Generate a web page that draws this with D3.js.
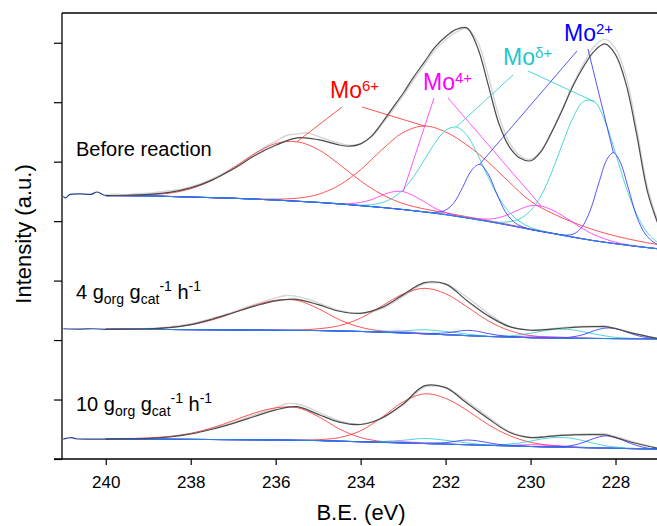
<!DOCTYPE html>
<html>
<head>
<meta charset="utf-8">
<script src="https://cdn.jsdelivr.net/npm/d3@7"></script>
<style>
  html, body { margin: 0; padding: 0; background: #fff; }
  svg { display: block; font-family: "Liberation Sans", Arial, sans-serif; }
</style>
</head>
<body>
<svg id="chart" width="657" height="526"></svg>
<script>
// ---- data (binding energy in eV, intensity in offset plot units) ----
const bgBE = d3.range(240, 226.99, -0.5); // grid of the Shirley backgrounds
const xTicks = [240, 238, 236, 234, 232, 230, 228];
const xMinorTicks = [241, 239, 237, 235, 233, 231, 229, 227];
const yTicks = [0, 2, 4, 6, 8, 10, 12, 14];
const yMinorTicks = [1, 3, 5, 7, 9, 11, 13, 15];
const states = ["6+", "4+", "\u03b4+", "2+"];

// Before reaction
const beforeBg = [8.86, 8.855, 8.85, 8.83, 8.81, 8.79, 8.77, 8.74, 8.71, 8.67, 8.63, 8.58, 8.52, 8.46, 8.39, 8.31, 8.22, 8.11, 7.99, 7.86, 7.72, 7.59, 7.46, 7.34, 7.24, 7.15, 7.07];
const beforeLead = [[241, 8.83], [240.95, 8.78], [240.85, 8.89], [240.6, 8.92], [240.35, 8.9], [240.2, 8.98], [240.05, 8.88], [239.9, 8.86]];
const beforeRaw = [[240, 8.88], [239.75, 8.91], [239.5, 8.89], [239.25, 8.93], [239, 8.94], [238.75, 8.98], [238.5, 9.02], [238.25, 9.07], [238, 9.16], [237.75, 9.27], [237.5, 9.42], [237.25, 9.6], [237, 9.8], [236.75, 10.02], [236.5, 10.27], [236.25, 10.5], [236, 10.68], [235.75, 10.88], [235.5, 10.93], [235.25, 10.97], [235, 10.85], [234.75, 10.72], [234.5, 10.62], [234.25, 10.55], [234, 10.6], [233.75, 10.82], [233.5, 11.25], [233.25, 11.72], [233, 12.22], [232.75, 12.75], [232.5, 13.25], [232.25, 13.75], [232, 14.1], [231.75, 14.36], [231.5, 14.48], [231.25, 14.05], [231, 12.9], [230.75, 11.55], [230.5, 10.65], [230.25, 10.2], [230, 10.08], [229.75, 10.38], [229.5, 11.02], [229.25, 11.78], [229, 12.6], [228.75, 13.3], [228.5, 13.88], [228.25, 14.12], [228, 13.8], [227.75, 12.85], [227.5, 11.1], [227.25, 9.15], [227, 7.98]];
const beforeEnv = [[240, 8.86], [239.5, 8.87], [239, 8.9], [238.5, 8.97], [238, 9.12], [237.5, 9.38], [237, 9.75], [236.5, 10.2], [236, 10.55], [235.5, 10.8], [235, 10.74], [234.5, 10.56], [234.25, 10.52], [234, 10.6], [233.75, 10.85], [233.5, 11.3], [233.25, 11.8], [233, 12.3], [232.75, 12.85], [232.5, 13.35], [232.25, 13.85], [232, 14.2], [231.75, 14.45], [231.5, 14.5], [231.25, 13.85], [231, 12.6], [230.75, 11.3], [230.5, 10.5], [230.25, 10.12], [230, 10.03], [229.75, 10.35], [229.5, 11], [229.25, 11.75], [229, 12.55], [228.75, 13.2], [228.5, 13.72], [228.25, 13.96], [228, 13.6], [227.75, 12.6], [227.5, 10.9], [227.25, 9], [227, 7.9]];
// fitted components, height above the background
const beforeMo6a = [[240, 0], [239.5, 0.01], [239, 0.04], [238.5, 0.11], [238, 0.28], [237.5, 0.58], [237, 1.02], [236.5, 1.52], [236, 1.9], [235.5, 2], [235, 1.78], [234.5, 1.33], [234, 0.83], [233.5, 0.44], [233, 0.2], [232.5, 0.1], [232, 0.06], [231.5, 0.04], [231, 0.03], [230.5, 0.02], [230, 0.02], [229.5, 0.01], [229, 0.01], [228.5, 0]];
const beforeMo6b = [[237, 0], [236.5, 0.01], [236, 0.03], [235.5, 0.1], [235, 0.27], [234.5, 0.63], [234, 1.21], [233.5, 1.94], [233, 2.59], [232.5, 2.89], [232, 2.78], [231.5, 2.45], [231, 2], [230.5, 1.45], [230, 0.95], [229.5, 0.68], [229, 0.5], [228.5, 0.36], [228, 0.26], [227.5, 0.19], [227, 0.14]];
const beforeMo4a = [[235, 0], [234.5, 0.01], [234.25, 0.04], [234, 0.11], [233.75, 0.23], [233.5, 0.41], [233.25, 0.56], [233, 0.6], [232.75, 0.5], [232.5, 0.34], [232.25, 0.17], [232, 0.07], [231.75, 0.02], [231.5, 0.01], [231, 0]];
const beforeMo4b = [[231.5, 0], [231, 0.08], [230.75, 0.19], [230.5, 0.38], [230.25, 0.61], [230, 0.8], [229.75, 0.85], [229.5, 0.79], [229.25, 0.66], [229, 0.49], [228.75, 0.33], [228.5, 0.2], [228, 0.05], [227.5, 0.01], [227, 0]];
const beforeMoDa = [[234.5, 0], [234.25, 0.01], [234, 0.02], [233.75, 0.06], [233.5, 0.16], [233.25, 0.35], [233, 0.67], [232.75, 1.15], [232.5, 1.75], [232.25, 2.36], [232, 2.83], [231.75, 3], [231.5, 2.78], [231.25, 2.21], [231, 1.5], [230.75, 0.87], [230.5, 0.44], [230.25, 0.19], [230, 0.07], [229.75, 0.02], [229.5, 0.01], [229, 0]];
const beforeMoDb = [[231.5, 0], [231, 0.01], [230.75, 0.04], [230.5, 0.12], [230.25, 0.29], [230, 0.63], [229.75, 1.21], [229.5, 2.06], [229.25, 3.07], [229, 4.02], [228.75, 4.63], [228.5, 4.68], [228.25, 4.08], [228, 3.04], [227.75, 1.94], [227.5, 1.07], [227.25, 0.5], [227, 0.2]];
const beforeMo2a = [[232.5, 0], [232.2, 0.04], [232, 0.15], [231.8, 0.45], [231.6, 1], [231.4, 1.6], [231.2, 1.87], [231, 1.6], [230.8, 1], [230.6, 0.45], [230.4, 0.15], [230.2, 0.04], [230, 0]];
const beforeMo2b = [[229.5, 0], [229.2, 0.02], [229, 0.1], [228.8, 0.37], [228.6, 0.98], [228.4, 1.93], [228.2, 2.8], [228.05, 3.05], [227.9, 2.8], [227.7, 1.93], [227.5, 1], [227.3, 0.45], [227.1, 0.2], [227, 0.15]];

// 4 g_org g_cat^-1 h^-1
const rate4Bg = [4.36, 4.36, 4.36, 4.355, 4.35, 4.345, 4.34, 4.335, 4.33, 4.325, 4.32, 4.305, 4.29, 4.265, 4.24, 4.21, 4.18, 4.15, 4.12, 4.1, 4.08, 4.07, 4.06, 4.055, 4.05, 4.045, 4.04];
const rate4Lead = [[241, 4.38], [240.6, 4.37], [240.3, 4.38], [240, 4.36]];
const rate4Raw = [[240, 4.37], [239.5, 4.38], [239, 4.39], [238.5, 4.44], [238, 4.55], [237.5, 4.73], [237, 4.95], [236.5, 5.2], [236, 5.42], [235.75, 5.5], [235.5, 5.47], [235.25, 5.38], [235, 5.25], [234.5, 5], [234, 4.9], [233.5, 5.06], [233, 5.47], [232.5, 5.9], [232.25, 5.92], [232, 5.9], [231.5, 5.45], [231, 4.9], [230.5, 4.47], [230, 4.34], [229.5, 4.38], [229, 4.45], [228.5, 4.47], [228.25, 4.48], [228, 4.4], [227.5, 4.21], [227, 4.06]];
const rate4Env = [[240, 4.36], [239.5, 4.37], [239, 4.38], [238.5, 4.42], [238, 4.52], [237.5, 4.7], [237, 4.92], [236.5, 5.14], [236, 5.32], [235.5, 5.37], [235, 5.19], [234.5, 4.97], [234, 4.9], [233.5, 5.1], [233, 5.52], [232.5, 5.93], [232, 5.88], [231.5, 5.33], [231, 4.82], [230.5, 4.45], [230, 4.33], [229.5, 4.37], [229, 4.43], [228.5, 4.45], [228.25, 4.45], [228, 4.38], [227.5, 4.2], [227, 4.05]];
const rate4Mo6a = [[240, 0], [239.5, 0.01], [239, 0.02], [238.5, 0.07], [238, 0.16], [237.5, 0.33], [237, 0.57], [236.5, 0.83], [236, 1.01], [235.5, 1.01], [235, 0.74], [234.5, 0.38], [234, 0.14], [233.5, 0.04], [233, 0.01], [232.5, 0]];
const rate4Mo6b = [[236, 0], [235.5, 0.01], [235, 0.06], [234.5, 0.18], [234, 0.45], [233.5, 0.88], [233, 1.31], [232.5, 1.53], [232, 1.38], [231.5, 0.97], [231, 0.53], [230.5, 0.22], [230, 0.07], [229.5, 0.02], [229, 0]];
const rate4Mo4a = [[234, 0], [233.5, 0.02], [233, 0.04], [232.5, 0.02], [232, 0]];
const rate4Mo4b = [[231, 0], [230.5, 0.02], [230, 0.05], [229.5, 0.04], [229, 0.02], [228.5, 0]];
const rate4MoDa = [[234, 0], [233.5, 0.03], [233, 0.07], [232.5, 0.14], [232, 0.11], [231.5, 0.05], [231, 0.01], [230.5, 0]];
const rate4MoDb = [[231, 0], [230.75, 0.02], [230.5, 0.04], [230.25, 0.09], [230, 0.15], [229.75, 0.22], [229.5, 0.28], [229.25, 0.3], [229, 0.28], [228.75, 0.22], [228.5, 0.15], [228.25, 0.09], [228, 0.04], [227.75, 0.02], [227.5, 0.01], [227, 0]];
const rate4Mo2a = [[232.75, 0], [232.5, 0.01], [232.25, 0.03], [232, 0.06], [231.75, 0.12], [231.5, 0.18], [231.25, 0.16], [231, 0.1], [230.75, 0.05], [230.5, 0.02], [230.25, 0.01], [230, 0]];
const rate4Mo2b = [[229.5, 0], [229.25, 0.01], [229, 0.05], [228.75, 0.13], [228.5, 0.26], [228.25, 0.35], [228, 0.34], [227.75, 0.23], [227.5, 0.11], [227.25, 0.04], [227, 0.01]];

// 10 g_org g_cat^-1 h^-1
const rate10Bg = [0.67, 0.67, 0.67, 0.665, 0.66, 0.655, 0.65, 0.645, 0.64, 0.63, 0.62, 0.6, 0.58, 0.56, 0.54, 0.52, 0.5, 0.48, 0.46, 0.44, 0.42, 0.405, 0.39, 0.375, 0.36, 0.345, 0.33];
const rate10Lead = [[241, 0.67], [240.8, 0.72], [240.7, 0.68], [240.3, 0.67], [240, 0.67]];
const rate10Raw = [[240, 0.68], [239.5, 0.69], [239, 0.7], [238.5, 0.76], [238, 0.86], [237.5, 1.02], [237, 1.23], [236.5, 1.48], [236, 1.72], [235.75, 1.86], [235.5, 1.85], [235.25, 1.74], [235, 1.58], [234.5, 1.28], [234, 1.17], [233.5, 1.36], [233, 1.82], [232.5, 2.42], [232.25, 2.45], [232, 2.42], [231.5, 1.95], [231, 1.42], [230.5, 0.93], [230, 0.73], [229.5, 0.78], [229, 0.83], [228.5, 0.85], [228.25, 0.85], [228, 0.76], [227.5, 0.54], [227, 0.37]];
const rate10Env = [[240, 0.67], [239.5, 0.68], [239, 0.69], [238.5, 0.74], [238, 0.84], [237.5, 1], [237, 1.2], [236.5, 1.43], [236, 1.65], [235.5, 1.76], [235, 1.5], [234.5, 1.24], [234, 1.16], [233.5, 1.38], [233, 1.85], [232.5, 2.46], [232, 2.4], [231.5, 1.88], [231, 1.36], [230.5, 0.9], [230, 0.72], [229.5, 0.77], [229, 0.81], [228.5, 0.82], [228.25, 0.81], [228, 0.72], [227.5, 0.52], [227, 0.36]];
const rate10Mo6a = [[240, 0], [239.5, 0.01], [239, 0.04], [238.5, 0.09], [238, 0.2], [237.5, 0.39], [237, 0.64], [236.5, 0.9], [236, 1.08], [235.5, 1.1], [235, 0.81], [234.5, 0.41], [234, 0.14], [233.5, 0.03], [233, 0]];
const rate10Mo6b = [[235.5, 0], [235, 0.03], [234.5, 0.12], [234, 0.37], [233.5, 0.84], [233, 1.38], [232.5, 1.67], [232, 1.54], [231.5, 1.16], [231, 0.7], [230.5, 0.35], [230, 0.14], [229.5, 0.05], [229, 0.01], [228.5, 0]];
const rate10Mo4a = [[234, 0], [233.5, 0.02], [233, 0.04], [232.5, 0.02], [232, 0]];
const rate10Mo4b = [[231, 0], [230.5, 0.02], [230, 0.06], [229.5, 0.05], [229, 0.02], [228.5, 0]];
const rate10MoDa = [[234, 0], [233.5, 0.03], [233, 0.09], [232.5, 0.17], [232, 0.13], [231.5, 0.06], [231, 0.01], [230.5, 0]];
const rate10MoDb = [[231, 0], [230.75, 0.02], [230.5, 0.06], [230.25, 0.11], [230, 0.18], [229.75, 0.26], [229.5, 0.31], [229.25, 0.33], [229, 0.3], [228.75, 0.23], [228.5, 0.15], [228.25, 0.08], [228, 0.04], [227.75, 0.02], [227.5, 0.01], [227, 0]];
const rate10Mo2a = [[232.75, 0], [232.5, 0.01], [232.25, 0.03], [232, 0.05], [231.75, 0.11], [231.5, 0.16], [231.25, 0.14], [231, 0.09], [230.75, 0.04], [230.5, 0.02], [230.25, 0.01], [230, 0]];
const rate10Mo2b = [[229.5, 0], [229.25, 0.02], [229, 0.07], [228.75, 0.18], [228.5, 0.32], [228.25, 0.41], [228, 0.37], [227.75, 0.23], [227.5, 0.11], [227.25, 0.03], [227, 0.01]];

const spectra = [
  { bg: beforeBg, lead: beforeLead, raw: beforeRaw, env: beforeEnv,
    comps: [[beforeMo6a, beforeMo6b], [beforeMo4a, beforeMo4b], [beforeMoDa, beforeMoDb], [beforeMo2a, beforeMo2b]] },
  { bg: rate4Bg, lead: rate4Lead, raw: rate4Raw, env: rate4Env,
    comps: [[rate4Mo6a, rate4Mo6b], [rate4Mo4a, rate4Mo4b], [rate4MoDa, rate4MoDb], [rate4Mo2a, rate4Mo2b]] },
  { bg: rate10Bg, lead: rate10Lead, raw: rate10Raw, env: rate10Env,
    comps: [[rate10Mo6a, rate10Mo6b], [rate10Mo4a, rate10Mo4b], [rate10MoDa, rate10MoDb], [rate10Mo2a, rate10Mo2b]] },
];

// ---- layout ----
const compColors = ["#ff2a2a", "#ff2aff", "#22cccc", "#2a2aff"];
const labelColors = ["#ff0000", "#ff00ff", "#1fc8c8", "#0000ff"];
// label anchor (px) and where the two leader lines leave it (offsets, px)
const labelPos = [[330, 98], [423, 90], [503, 65], [564, 41]];
const leaderStart = [[[12, 9], [32, 9]], [[11, 8], [25, 8]], [[10, 10], [25, 6]], [[13, 10], [24, 8]]];

const svg = d3.select("#chart");
const x = d3.scaleLinear().domain([241.03, 227]).range([62, 658]);
const y = d3.scaleLinear().domain([0, 15]).range([459, 13]);

const line = d3
  .line()
  .x((d) => x(d[0]))
  .y((d) => y(d[1]))
  .curve(d3.curveCatmullRom.alpha(0.5));

// component drawn on top of its background, flat parts follow the background
function componentPoints(bg, comp) {
  const base = d3.scaleLinear().domain(bgBE).range(bg);
  const hi = comp[0][0];
  const lo = comp[comp.length - 1][0];
  const bgPts = bgBE.map((b, i) => [b, bg[i]]);
  return bgPts
    .filter((p) => p[0] > hi)
    .concat(comp.map((p) => [p[0], base(p[0]) + p[1]]))
    .concat(bgPts.filter((p) => p[0] < lo));
}

const plot = svg.append("g");

spectra.forEach((s, si) => {
  const g = plot.append("g");
  g.append("path")
    .attr("d", line(s.raw))
    .attr("fill", "none")
    .attr("stroke", "#d6d6d6")
    .attr("stroke-width", 1.4);
  s.comps.forEach((pair, ci) => {
    pair.forEach((comp) => {
      g.append("path")
        .attr("d", line(componentPoints(s.bg, comp)))
        .attr("fill", "none")
        .attr("stroke", compColors[ci])
        .attr("stroke-opacity", 0.8)
        .attr("stroke-width", 1);
    });
  });
  // background on top so the flat baseline reads light blue
  g.append("path")
    .attr("d", line(bgBE.map((b, i) => [b, s.bg[i]])))
    .attr("fill", "none")
    .attr("stroke", "#2b8de0")
    .attr("stroke-opacity", 0.85)
    .attr("stroke-width", 1.1);
  g.append("path")
    .attr("d", line(s.env))
    .attr("fill", "none")
    .attr("stroke", "#4a4a4a")
    .attr("stroke-width", 1.2);
  g.append("path")
    .attr("d", line(s.lead))
    .attr("fill", "none")
    .attr("stroke", "#23408c")
    .attr("stroke-width", 1.2);
});

// leader lines from the labels to the peak tops of the first spectrum
const first = spectra[0];
const firstBase = d3.scaleLinear().domain(bgBE).range(first.bg);
first.comps.forEach((pair, ci) => {
  pair.forEach((comp, k) => {
    const peak = comp.reduce((a, b) => (b[1] > a[1] ? b : a));
    const st = leaderStart[ci][k];
    plot
      .append("line")
      .attr("x1", labelPos[ci][0] + st[0])
      .attr("y1", labelPos[ci][1] + st[1])
      .attr("x2", x(peak[0]))
      .attr("y2", y(firstBase(peak[0]) + peak[1]))
      .attr("stroke", compColors[ci])
      .attr("stroke-opacity", 0.8)
      .attr("stroke-width", 1);
  });
  const t = plot
    .append("text")
    .attr("x", labelPos[ci][0])
    .attr("y", labelPos[ci][1])
    .attr("fill", labelColors[ci])
    .style("font-size", "23px");
  t.append("tspan").text("Mo");
  t.append("tspan").attr("dy", -7).style("font-size", "15px").text(states[ci]);
});

// sample labels
plot
  .append("text")
  .attr("x", 76)
  .attr("y", 156)
  .style("font-size", "20px")
  .text("Before reaction");

function rateLabel(value, ty) {
  const t = plot.append("text").attr("x", 76).attr("y", ty).style("font-size", "20px");
  t.append("tspan").text(value + " g");
  t.append("tspan").attr("dy", 5).style("font-size", "14px").text("org");
  t.append("tspan").attr("dy", -5).text(" g");
  t.append("tspan").attr("dy", 5).style("font-size", "14px").text("cat");
  t.append("tspan").attr("dy", -13).style("font-size", "14px").text("-1");
  t.append("tspan").attr("dy", 8).text(" h");
  t.append("tspan").attr("dy", -8).style("font-size", "14px").text("-1");
}
rateLabel("4", 299);
rateLabel("10", 411);

// ---- axes ----
const axisX = svg.append("g").attr("transform", "translate(0,459)");
axisX.call(d3.axisBottom(x).tickValues(xMinorTicks).tickSize(4).tickFormat("").tickSizeOuter(0));
axisX.call(d3.axisBottom(x).tickValues(xTicks).tickSize(6).tickFormat(d3.format("d")).tickSizeOuter(0));
axisX.selectAll(".domain").remove();
axisX.selectAll("text").attr("y", 17).attr("dy", "0.71em").style("font-size", "17px").attr("fill", "#000");

const axisY = svg.append("g").attr("transform", "translate(62,0)");
axisY.call(d3.axisLeft(y).tickValues(yMinorTicks).tickSize(4).tickFormat("").tickSizeOuter(0));
axisY.call(d3.axisLeft(y).tickValues(yTicks).tickSize(8).tickFormat("").tickSizeOuter(0));
axisY.selectAll(".domain").remove();

svg.selectAll(".tick line").attr("stroke", "#000").attr("stroke-width", 1.2);

// frame
svg.append("line").attr("x1", 54).attr("x2", 657).attr("y1", 459).attr("y2", 459).attr("stroke", "#000").attr("stroke-width", 1.3);
svg.append("line").attr("x1", 62).attr("x2", 62).attr("y1", 13).attr("y2", 459).attr("stroke", "#000").attr("stroke-width", 1.3);
svg.append("line").attr("x1", 62).attr("x2", 657).attr("y1", 13).attr("y2", 13).attr("stroke", "#000").attr("stroke-width", 1.3);

// titles
svg
  .append("text")
  .attr("transform", "translate(31,234) rotate(-90)")
  .attr("text-anchor", "middle")
  .style("font-size", "22px")
  .text("Intensity (a.u.)");
svg
  .append("text")
  .attr("x", 361)
  .attr("y", 520)
  .attr("text-anchor", "middle")
  .style("font-size", "22px")
  .text("B.E. (eV)");
</script>
</body>
</html>
